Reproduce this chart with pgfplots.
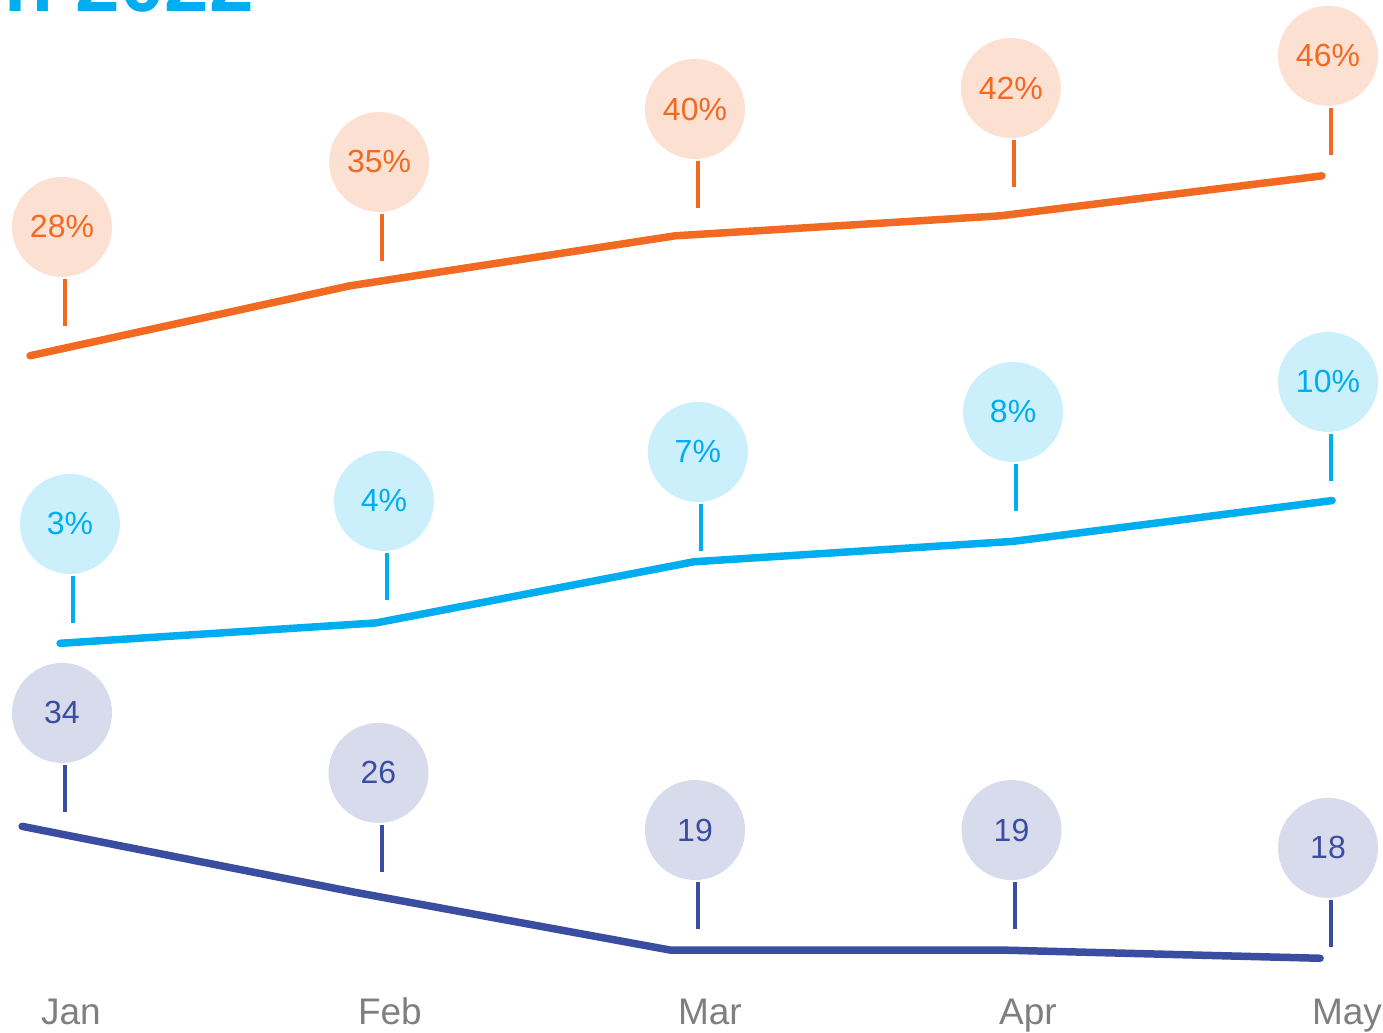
\documentclass[border=0pt]{standalone}
\usepackage{pgfplots}
\pgfplotsset{compat=1.18}
\usepackage{fontspec}
\setmainfont{Liberation Sans}
\definecolor{orgline}{HTML}{F26A21}
\definecolor{orgfill}{HTML}{FCE0D1}
\definecolor{blueline}{HTML}{00AEEF}
\definecolor{bluefill}{HTML}{CCEFFC}
\definecolor{navyline}{HTML}{3A4DA0}
\definecolor{navyfill}{HTML}{D8DBEC}
\definecolor{monthgray}{HTML}{7F7F7F}
% u, v, dy(pt), text, line colour, fill colour
\newcommand{\bub}[6]{%
  \draw[#5, line width=2pt] ([xshift=1.5pt,yshift=#3pt-26pt]axis cs:#1,#2) -- ([xshift=1.5pt,yshift=#3pt-49.5pt]axis cs:#1,#2);
  \node[circle, fill=#6, minimum size=50pt, inner sep=0pt, text=#5, font=\fontsize{16}{19}\selectfont] at ([yshift=#3pt]axis cs:#1,#2) {#4};
}
\pgfplotsset{base/.style={scale only axis, width=691.5pt, height=516.5pt,
  xmin=-0.19589, xmax=4.17378, at={(0,0)}, anchor=south west, clip=false}}
\begin{document}
\begin{tikzpicture}
% navy series + month labels
\begin{axis}[base, ymin=8.94, ymax=134.21,
  axis line style={draw=none}, major tick length=0pt, tick style={draw=none},
  ytick=\empty,
  xtick={0.028,1.036,2.047,3.052,4.06},
  xticklabels={Jan,Feb,Mar,Apr,May},
  xticklabel style={anchor=base, yshift=4pt, text=monthgray, font=\fontsize{18.5}{22}\selectfont}]
\addplot[navyline, line width=3.75pt, line cap=round, line join=round] coordinates
  {(-0.126,34) (0.926,26) (1.921,19) (2.964,19) (3.975,18)};
\bub{0}{34}{56.7}{34}{navyline}{navyfill}
\bub{1}{26}{59.7}{26}{navyline}{navyfill}
\bub{2}{19}{60.0}{19}{navyline}{navyfill}
\bub{3}{19}{60.0}{19}{navyline}{navyfill}
\bub{4}{18}{55.2}{18}{navyline}{navyfill}
\end{axis}
% blue series
\begin{axis}[base, hide axis, ymin=-16.11, ymax=34.55]
\addplot[blueline, line width=3.75pt, line cap=round, line join=round] coordinates
  {(-0.006,3) (0.992,4) (1.997,7) (3.005,8) (4.013,10)};
\bub{0.025}{3}{59.7}{3\%}{blueline}{bluefill}
\bub{1.017}{4}{61.0}{4\%}{blueline}{bluefill}
\bub{2.009}{7}{54.9}{7\%}{blueline}{bluefill}
\bub{3.005}{8}{64.7}{8\%}{blueline}{bluefill}
\bub{4.0}{10}{59.3}{10\%}{blueline}{bluefill}
\end{axis}
% orange series
\begin{axis}[base, hide axis, ymin=-39.77, ymax=63.60]
\addplot[orgline, line width=3.75pt, line cap=round, line join=round] coordinates
  {(-0.101,28) (0.910,35) (1.937,40) (2.964,42) (3.981,46)};
\bub{0}{28}{64.4}{28\%}{orgline}{orgfill}
\bub{1.002}{35}{61.9}{35\%}{orgline}{orgfill}
\bub{2.0}{40}{63.4}{40\%}{orgline}{orgfill}
\bub{2.998}{42}{63.9}{42\%}{orgline}{orgfill}
\bub{4.0}{46}{60.0}{46\%}{orgline}{orgfill}
\end{axis}
\pgfresetboundingbox
\path[use as bounding box] (0,0) rectangle (691.5pt,516.5pt);
\node[anchor=base east, inner sep=0pt, text=blueline, font=\bfseries\fontsize{40}{48}\selectfont] at (127pt,510.8pt) {Trends in 2022};
\end{tikzpicture}
\end{document}
